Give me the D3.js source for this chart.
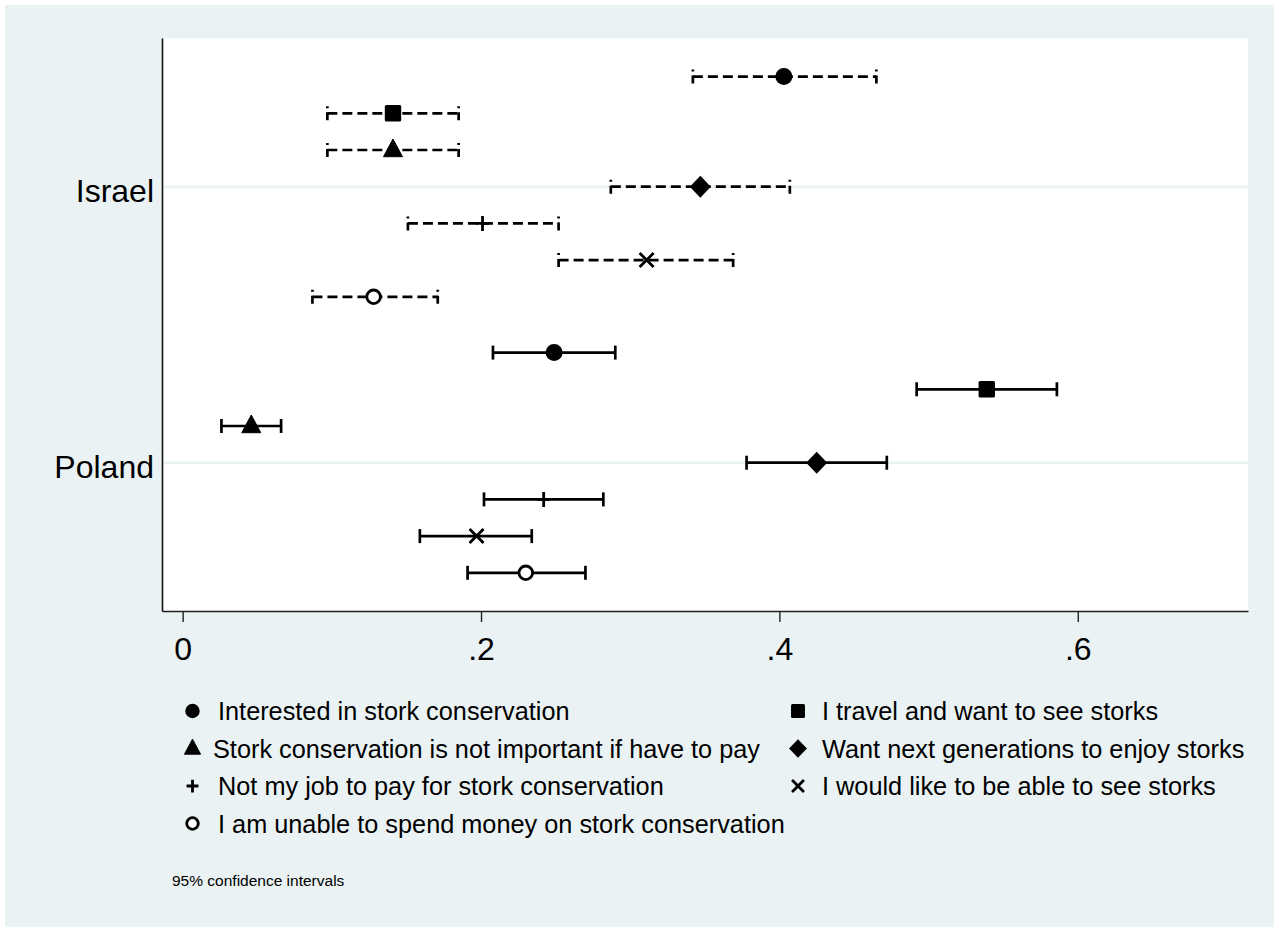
<!DOCTYPE html>
<html>
<head>
<meta charset="utf-8">
<script src="https://cdn.jsdelivr.net/npm/d3@7"></script>
<style>
  html, body { margin: 0; padding: 0; background: #ffffff; }
  svg { display: block; font-family: Arial, "Liberation Sans", Helvetica, sans-serif; }
</style>
</head>
<body>
<svg id="chart" width="1279" height="932"></svg>
<script>
// ---------------- data ----------------
const countries = ["Israel", "Poland"];
const items = [
  "Interested in stork conservation",
  "I travel and want to see storks",
  "Stork conservation is not important if have to pay",
  "Want next generations to enjoy storks",
  "Not my job to pay for stork conservation",
  "I would like to be able to see storks",
  "I am unable to spend money on stork conservation"
];
const symbols = ["circle", "square", "triangle", "diamond", "plus", "cross", "hollow"];
const israelMean = [0.403, 0.141, 0.141, 0.347, 0.201, 0.311, 0.128];
const israelLo   = [0.342, 0.097, 0.097, 0.287, 0.151, 0.252, 0.087];
const israelHi   = [0.465, 0.185, 0.185, 0.407, 0.252, 0.369, 0.171];
const polandMean = [0.249, 0.539, 0.046, 0.425, 0.242, 0.197, 0.230];
const polandLo   = [0.208, 0.492, 0.026, 0.378, 0.202, 0.159, 0.191];
const polandHi   = [0.290, 0.586, 0.066, 0.472, 0.282, 0.234, 0.270];
const xTicks = [0, 0.2, 0.4, 0.6];
const note = "95% confidence intervals";

// legend order (two columns, Stata style)
const legendOrder = [0, 1, 2, 3, 4, 5, 6];

// ---------------- layout ----------------
const BG = "#eaf2f3";
const svg = d3.select("#chart");
svg.append("rect").attr("x", 5).attr("y", 5).attr("width", 1269).attr("height", 922).attr("fill", BG);

const plot = { left: 162.5, right: 1248, top: 38.5, bottom: 611 };
svg.append("rect")
  .attr("x", plot.left).attr("y", plot.top)
  .attr("width", plot.right - plot.left).attr("height", plot.bottom - plot.top)
  .attr("fill", "#ffffff");

const x = d3.scaleLinear().domain([-0.0135, 0.7141]).range([plot.left, plot.right]);
const yGroup = d3.scalePoint().domain(countries).range([186.7, 462.7]);
const yOff = d3.scaleLinear().domain([-3, 3]).range([-110.1, 110.1]);

// gridlines
svg.append("g").selectAll("line").data(countries).join("line")
  .attr("x1", plot.left).attr("x2", plot.right)
  .attr("y1", d => yGroup(d)).attr("y2", d => yGroup(d))
  .attr("stroke", BG).attr("stroke-width", 2.5);

// build records
const rows = [];
countries.forEach((c, ci) => {
  const mean = ci === 0 ? israelMean : polandMean;
  const lo = ci === 0 ? israelLo : polandLo;
  const hi = ci === 0 ? israelHi : polandHi;
  items.forEach((it, i) => {
    rows.push({ country: c, i, mean: mean[i], lo: lo[i], hi: hi[i], sym: symbols[i], dashed: ci === 0 });
  });
});
const yPos = d => yGroup(d.country) + yOff(d.i - 3);

// error bars
const eb = svg.append("g");
const capH = 7;
rows.forEach(d => {
  const g = eb.append("g")
    .attr("stroke", "#000").attr("stroke-width", 2.7).attr("fill", "none")
    .attr("stroke-dasharray", d.dashed ? "10,5" : null);
  const yy = yPos(d);
  g.append("line").attr("x1", x(d.lo)).attr("x2", x(d.hi)).attr("y1", yy).attr("y2", yy);
  g.append("line").attr("x1", x(d.lo)).attr("x2", x(d.lo)).attr("y1", yy - capH).attr("y2", yy + capH)
    .attr("stroke-dasharray", d.dashed ? "2,4,8" : null);
  g.append("line").attr("x1", x(d.hi)).attr("x2", x(d.hi)).attr("y1", yy - capH).attr("y2", yy + capH)
    .attr("stroke-dasharray", d.dashed ? "2,4,8" : null);
});

// marker drawing
function drawMarker(g, sym, cx, cy, s) {
  s = s || 1;
  switch (sym) {
    case "circle":
      g.append("circle").attr("cx", cx).attr("cy", cy).attr("r", 8.5 * s).attr("fill", "#000");
      break;
    case "square":
      g.append("rect").attr("x", cx - 8.2 * s).attr("y", cy - 8.2 * s).attr("width", 16.4 * s).attr("height", 16.4 * s)
        .attr("rx", 1.5).attr("fill", "#000");
      break;
    case "triangle":
      g.append("path").attr("d", `M${cx},${cy - 11 * s} L${cx + 9.5 * s},${cy + 6.7 * s} L${cx - 9.5 * s},${cy + 6.7 * s} Z`)
        .attr("fill", "#000").attr("stroke", "#000").attr("stroke-width", 1).attr("stroke-linejoin", "round");
      break;
    case "diamond":
      g.append("path").attr("d", `M${cx},${cy - 11 * s} L${cx + 10.5 * s},${cy} L${cx},${cy + 11 * s} L${cx - 10.5 * s},${cy} Z`)
        .attr("fill", "#000");
      break;
    case "plus":
      g.append("path").attr("d", `M${cx - 7 * s},${cy} H${cx + 7 * s} M${cx},${cy - 7.5 * s} V${cy + 7.5 * s}`)
        .attr("stroke", "#000").attr("stroke-width", 2.8).attr("fill", "none");
      break;
    case "cross":
      g.append("path").attr("d", `M${cx - 7 * s},${cy - 7 * s} L${cx + 7 * s},${cy + 7 * s} M${cx - 7 * s},${cy + 7 * s} L${cx + 7 * s},${cy - 7 * s}`)
        .attr("stroke", "#000").attr("stroke-width", 2.8).attr("fill", "none");
      break;
    case "hollow":
      g.append("circle").attr("cx", cx).attr("cy", cy).attr("r", 6.8 * s).attr("fill", "#fff")
        .attr("stroke", "#000").attr("stroke-width", 2.8);
      break;
  }
}
const mk = svg.append("g");
rows.forEach(d => drawMarker(mk, d.sym, x(d.mean), yPos(d), 1));

// axes
const xAxis = d3.axisBottom(x).tickValues(xTicks).tickSize(11).tickSizeOuter(0)
  .tickFormat(d => d === 0 ? "0" : d3.format(".1f")(d).replace(/^0/, ""));
const gx = svg.append("g").attr("transform", `translate(0,${plot.bottom})`).call(xAxis);
gx.select(".domain").attr("stroke", "#222").attr("stroke-width", 1.6);
gx.selectAll(".tick line").attr("stroke", "#222").attr("stroke-width", 1.4);
gx.selectAll(".tick text").attr("y", 49).attr("dy", null)
  .attr("font-size", 32).attr("fill", "#000").attr("font-family", "Arial, 'Liberation Sans', sans-serif");

const yAxis = d3.axisLeft(yGroup).tickSize(0).tickPadding(8.5);
const gy = svg.append("g").attr("transform", `translate(${plot.left},0)`).call(yAxis);
gy.select(".domain").remove();
gy.selectAll(".tick text").attr("dy", "0.47em")
  .attr("font-size", 32).attr("fill", "#000").attr("font-family", "Arial, 'Liberation Sans', sans-serif");
svg.append("line").attr("x1", plot.left).attr("x2", plot.left).attr("y1", plot.top).attr("y2", plot.bottom + 0.8)
  .attr("stroke", "#111").attr("stroke-width", 1.6);

// legend
const lg = svg.append("g");
const colMarkX = [192.5, 798];
const colTextX = [218, 822];
const rowBase = [720, 757.5, 795, 832.5];
legendOrder.forEach((idx, k) => {
  const col = k % 2, row = Math.floor(k / 2);
  const base = rowBase[row];
  const tx = (col === 0 && row === 1) ? 213 : colTextX[col];
  drawMarker(lg, symbols[idx], colMarkX[col], base - 9, 0.85);
  lg.append("text").attr("x", tx).attr("y", base).attr("font-size", 25.3).attr("fill", "#000")
    .text(items[idx]);
});

svg.append("text").attr("x", 172).attr("y", 886).attr("font-size", 15.5).attr("fill", "#000").text(note);
</script>
</body>
</html>
